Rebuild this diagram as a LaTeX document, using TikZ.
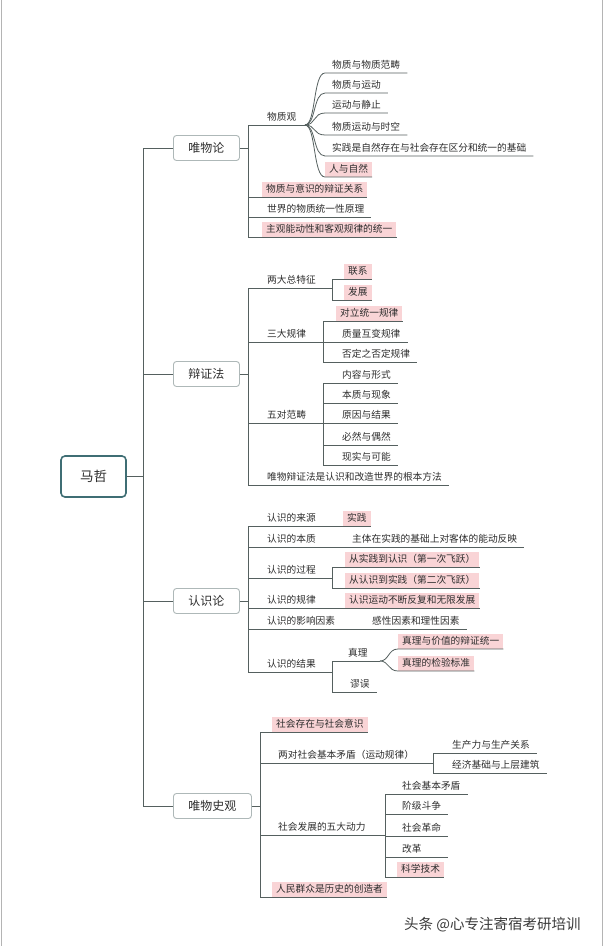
\documentclass[tikz,border=0pt]{standalone}
\usepackage{fontspec}
\newfontfamily\cjk{Noto Sans CJK SC}
\definecolor{linec}{HTML}{55605F}
\definecolor{txtc}{HTML}{2E2E2E}
\definecolor{pinkc}{HTML}{F9D4D6}
\definecolor{boxc}{HTML}{AEB8B8}
\definecolor{rootc}{HTML}{3F6E74}
\definecolor{edgec}{HTML}{B4B4B4}
\definecolor{wmc}{HTML}{3A3A3A}
\begin{document}
\begin{tikzpicture}[x=1pt,y=-1pt,
  ln/.style={draw=linec,line width=0.8pt},
  itm/.style={anchor=south west,inner xsep=4pt,inner ysep=2pt,text height=8.5pt,text depth=2pt,font={\cjk\fontsize{9.7}{11}\selectfont},text=txtc},
  pk/.style={itm,fill=pinkc},
  mainbox/.style={draw=boxc,line width=0.9pt,rounded corners=3pt,fill=white,minimum height=25pt,inner xsep=15pt,font={\cjk\fontsize{12}{14}\selectfont},text=txtc,anchor=west},
  rootbox/.style={draw=rootc,line width=1.6pt,rounded corners=4pt,fill=white,minimum width=65pt,minimum height=41pt,font={\cjk\fontsize{13.5}{15}\selectfont},text=txtc},
  edge/.style={draw=edgec,line width=1pt}]
\useasboundingbox (0,0) rectangle (604,946);
\fill[white] (0,0) rectangle (604,946);
\draw[edge] (1,0) -- (1,946);
\draw[edge] (602,0) -- (602,946);

% root and trunk
\node[rootbox] (mz) at (93.5,476.5) {马哲};
\coordinate (T) at (143,0);
\node[mainbox] (wwl) at (173,148) {唯物论};
\node[mainbox] (bzf) at (173,374) {辩证法};
\node[mainbox] (rsl) at (173,601) {认识论};
\node[mainbox] (wsg) at (173,806) {唯物史观};
\draw[ln] (mz.east) -- (mz.east -| T);
\draw[ln] (wwl.west) -- (wwl.west -| T) -- (wsg.west -| T) -- (wsg.west);
\draw[ln] (bzf.west) -- (bzf.west -| T);
\draw[ln] (rsl.west) -- (rsl.west -| T);

% ---------- 唯物论
\coordinate (A) at (248,148);
\draw[ln] (wwl.east) -- (A);
\node[itm] (wzg) at (263,125) {物质观};
\coordinate (F1) at (305,125);
\draw[ln] (A) |- (F1);
\node[itm] (a1) at (328,73) {物质与物质范畴};
\node[itm] (a2) at (328,93) {物质与运动};
\node[itm] (a3) at (328,113) {运动与静止};
\node[itm] (a4) at (328,135) {物质运动与时空};
\node[itm] (a5) at (328,156) {实践是自然存在与社会存在区分和统一的基础};
\node[pk] (a6) at (325,177) {人与自然};
\foreach \n/\u in {a1/73,a2/93,a3/113,a4/135,a5/156}
  \draw[ln] (F1) .. controls (316,125) and (313,\u) .. (325,\u) -- ([xshift=3pt]\n.south east);
\draw[ln] (F1) .. controls (316,125) and (313,177) .. (a6.south west) -- (a6.south east);
\node[pk] (a7) at (262,197) {物质与意识的辩证关系};
\node[itm] (a8) at (263,217) {世界的物质统一性原理};
\node[pk] (a9) at (262,237) {主观能动性和客观规律的统一};
\draw[ln] (A) |- (a7.south east);
\draw[ln] (A) |- ([xshift=3pt]a8.south east);
\draw[ln] (A) |- (a9.south east);

% ---------- 辩证法
\coordinate (B) at (248,374);
\draw[ln] (bzf.east) -- (B);
\node[itm] (b1) at (263,288) {两大总特征};
\coordinate (B1) at (332,288);
\draw[ln] (B) |- (B1);
\node[pk] (b11) at (344,279) {联系};
\node[pk] (b12) at (344,300) {发展};
\draw[ln] (B1) |- (b11.south east);
\draw[ln] (B1) |- (b12.south east);
\node[itm] (b2) at (263,342) {三大规律};
\coordinate (B2) at (323,342);
\draw[ln] (B) |- (B2);
\node[pk] (b21) at (336,321) {对立统一规律};
\node[itm] (b22) at (338,342) {质量互变规律};
\node[itm] (b23) at (338,362) {否定之否定规律};
\draw[ln] (B2) |- (b21.south east);
\draw[ln] (B2) |- ([xshift=3pt]b22.south east);
\draw[ln] (B2) |- ([xshift=3pt]b23.south east);
\node[itm] (b3) at (263,423) {五对范畴};
\coordinate (B3) at (323,423);
\draw[ln] (B) |- (B3);
\node[itm] (b31) at (338,383) {内容与形式};
\node[itm] (b32) at (338,403) {本质与现象};
\node[itm] (b33) at (338,423) {原因与结果};
\node[itm] (b34) at (338,445) {必然与偶然};
\node[itm] (b35) at (338,465) {现实与可能};
\foreach \n in {b31,b32,b33,b34,b35}
  \draw[ln] (B3) |- ([xshift=3pt]\n.south east);
\node[itm] (b4) at (263,485) {唯物辩证法是认识和改造世界的根本方法};
\draw[ln] (B) |- ([xshift=3pt]b4.south east);

% ---------- 认识论
\coordinate (C) at (248,601);
\draw[ln] (rsl.east) -- (C);
\node[itm] (c1) at (263,526) {认识的来源};
\node[pk] (c11) at (343,526) {实践};
\draw[ln] (C) |- (c11.south east);
\node[itm] (c2) at (263,547) {认识的本质};
\node[itm] (c21) at (348,547) {主体在实践的基础上对客体的能动反映};
\draw[ln] (C) |- ([xshift=3pt]c21.south east);
\node[itm] (c3) at (263,578) {认识的过程};
\coordinate (C3) at (332,578);
\draw[ln] (C) |- (C3);
\node[pk] (c31) at (345,567) {从实践到认识（第一次飞跃）};
\node[pk] (c32) at (345,588) {从认识到实践（第二次飞跃）};
\draw[ln] (C3) |- (c31.south east);
\draw[ln] (C3) |- (c32.south east);
\node[itm] (c4) at (263,608) {认识的规律};
\node[pk] (c41) at (345,608) {认识运动不断反复和无限发展};
\draw[ln] (C) |- (c41.south east);
\node[itm] (c5) at (263,629) {认识的影响因素};
\node[itm] (c51) at (368,629) {感性因素和理性因素};
\draw[ln] (C) |- ([xshift=3pt]c51.south east);
\node[itm] (c6) at (263,672) {认识的结果};
\coordinate (C6) at (332,672);
\draw[ln] (C) |- (C6);
\node[itm] (c61) at (344,661) {真理};
\coordinate (F2) at (380,661);
\draw[ln] (C6) |- (F2);
\node[pk] (c611) at (398,649) {真理与价值的辩证统一};
\node[pk] (c612) at (398,671) {真理的检验标准};
\draw[ln] (F2) .. controls (389,661) and (388,649) .. (c611.south west) -- (c611.south east);
\draw[ln] (F2) .. controls (389,661) and (388,671) .. (c612.south west) -- (c612.south east);
\node[itm] (c62) at (346,692) {谬误};
\draw[ln] (C6) |- ([xshift=3pt]c62.south east);

% ---------- 唯物史观
\coordinate (D) at (260,806);
\draw[ln] (wsg.east) -- (D);
\node[pk] (d1) at (272,732) {社会存在与社会意识};
\draw[ln] (D) |- (d1.south east);
\node[itm] (d2) at (274,763) {两对社会基本矛盾（运动规律）};
\coordinate (D2) at (433,763);
\draw[ln] (D) |- (D2);
\node[itm] (d21) at (448,753) {生产力与生产关系};
\node[itm] (d22) at (448,773) {经济基础与上层建筑};
\draw[ln] (D2) |- ([xshift=3pt]d21.south east);
\draw[ln] (D2) |- ([xshift=3pt]d22.south east);
\node[itm] (d3) at (274,835) {社会发展的五大动力};
\coordinate (D3) at (385,835);
\coordinate (E) at (448,0);
\draw[ln] (D) |- (D3);
\node[itm] (d31) at (398,794) {社会基本矛盾};
\node[itm] (d32) at (398,814) {阶级斗争};
\node[itm] (d33) at (398,836) {社会革命};
\node[itm] (d34) at (398,857) {改革};
\node[pk] (d35) at (397,877) {科学技术};
\draw[ln] (D3) |- ([xshift=3pt]d31.south east);
\draw[ln] (D3) |- (d32.south west -| E);
\draw[ln] (D3) |- (d33.south west -| E);
\draw[ln] (D3) |- (d34.south west -| E);
\draw[ln] (D3) |- (d35.south east);
\node[pk] (d4) at (272,897) {人民群众是历史的创造者};
\draw[ln] (D) |- (d4.south east);

% watermark caption
\node[font={\cjk\fontsize{14.5}{16}\selectfont},text=wmc,anchor=west,inner sep=0pt] (wm) at (404,925) {头条 @心专注寄宿考研培训};
\end{tikzpicture}
\end{document}
